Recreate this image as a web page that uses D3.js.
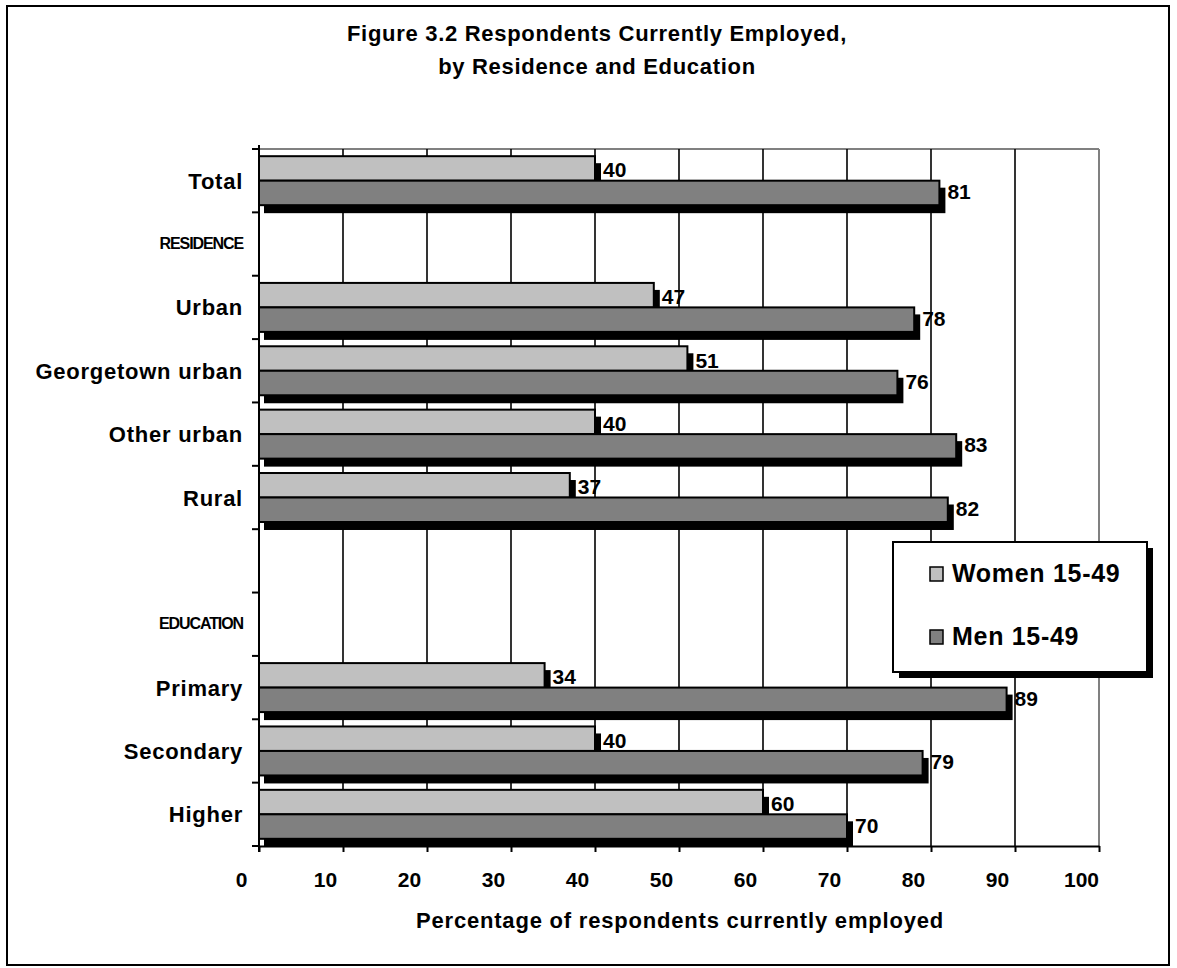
<!DOCTYPE html>
<html><head><meta charset="utf-8">
<script src="https://cdn.jsdelivr.net/npm/d3@7"></script>
<style>body{margin:0;background:#fff}svg text{font-family:"Liberation Sans",Arial,sans-serif;font-weight:bold;fill:#000}</style>
</head><body><svg id="c" width="1177" height="968"></svg>
<script>
const categories = ["Total","RESIDENCE","Urban","Georgetown urban","Other urban","Rural","","EDUCATION","Primary","Secondary","Higher"];
const headers = ["RESIDENCE","EDUCATION"];
const women = [40,null,47,51,40,37,null,null,34,40,60];
const men = [81,null,78,76,83,82,null,null,89,79,70];
const xTicks = [0,10,20,30,40,50,60,70,80,90,100];
const seriesNames = ["Women 15-49","Men 15-49"];
const colors = ["#c0c0c0","#808080"];

const svg = d3.select("#c");
const L=259,R=1099,T=149,B=846;
const x = d3.scaleLinear().domain([0,100]).range([L,R]);
const y = d3.scaleBand().domain(categories.map((c,i)=>i)).range([T,B]).paddingInner(0.227).paddingOuter(0.1135);
const slot = (B-T)/categories.length;

// outer frame
svg.append("rect").attr("x",7).attr("y",6).attr("width",1162).attr("height",959).attr("fill","#fff").attr("stroke","#000").attr("stroke-width",2);

// title
const title = svg.append("text").attr("text-anchor","middle").style("font-size","22px").style("letter-spacing","0.7px");
title.append("tspan").attr("x",597).attr("y",41).text("Figure 3.2 Respondents Currently Employed,");
title.append("tspan").attr("x",597).attr("y",74).text("by Residence and Education");

// plot frame top/right grey
svg.append("line").attr("x1",L).attr("x2",R).attr("y1",T).attr("y2",T).attr("stroke","#808080").attr("stroke-width",2);
svg.append("line").attr("x1",R).attr("x2",R).attr("y1",T).attr("y2",B).attr("stroke","#808080").attr("stroke-width",2);
// gridlines
svg.append("g").selectAll("line").data(xTicks.filter(d=>d>0&&d<100)).join("line")
  .attr("x1",d=>x(d)).attr("x2",d=>x(d)).attr("y1",T).attr("y2",B).attr("stroke","#000").attr("stroke-width",1.6);

const bh = y.bandwidth()/2;
const dx=6, dy=8;
const rows = categories.map((c,i)=>({i,w:women[i],m:men[i]})).filter(d=>d.w!=null);
const g = svg.append("g");
rows.forEach(d=>{
  const y0 = y(d.i);
  g.append("rect").attr("x",x(0)+dx-1).attr("y",y0+dy-1).attr("width",x(d.w)-x(0)+1).attr("height",bh+1).attr("fill","#000");
  g.append("rect").attr("x",x(0)+dx-1).attr("y",y0+bh+dy-1).attr("width",x(d.m)-x(0)+1).attr("height",bh+1).attr("fill","#000");
  g.append("rect").attr("x",x(0)).attr("y",y0).attr("width",x(d.w)-x(0)).attr("height",bh).attr("fill",colors[0]).attr("stroke","#000").attr("stroke-width",2);
  g.append("rect").attr("x",x(0)).attr("y",y0+bh).attr("width",x(d.m)-x(0)).attr("height",bh).attr("fill",colors[1]).attr("stroke","#000").attr("stroke-width",2);
  g.append("text").attr("x",x(d.w)+dx+2).attr("y",y0+bh/2+9).style("font-size","21px").text(d.w);
  g.append("text").attr("x",x(d.m)+dx+2).attr("y",y0+bh*1.5+6).style("font-size","21px").text(d.m);
});

// left axis
svg.append("line").attr("x1",L).attr("x2",L).attr("y1",T-4).attr("y2",B+6).attr("stroke","#000").attr("stroke-width",2);
svg.append("g").selectAll("line").data(d3.range(categories.length+1)).join("line")
  .attr("x1",L-7).attr("x2",L).attr("y1",i=>T+i*slot).attr("y2",i=>T+i*slot).attr("stroke","#000").attr("stroke-width",2);
// bottom axis
const xa = svg.append("g").attr("transform",`translate(0,${B})`)
  .call(d3.axisBottom(x).tickValues(xTicks).tickSize(6).tickSizeOuter(0).tickPadding(20));
xa.select(".domain").attr("stroke","#000").attr("stroke-width",2);
xa.selectAll(".tick line").attr("stroke","#000").attr("stroke-width",2);
xa.selectAll(".tick text").attr("x",-18).style("font-size","21px").style("font-family","'Liberation Sans',Arial,sans-serif").style("font-weight","bold").attr("fill","#000");

// category labels
svg.append("g").selectAll("text").data(categories.map((c,i)=>({c,i})).filter(d=>d.c)).join("text")
  .attr("x",243).attr("y",d=>T+(d.i+0.5)*slot+(headers.includes(d.c)?5:8))
  .attr("text-anchor","end")
  .style("font-size",d=>headers.includes(d.c)?"16px":"22px")
  .style("letter-spacing",d=>headers.includes(d.c)?"-1.1px":"0.75px")
  .text(d=>d.c);

// axis title
svg.append("text").attr("x",680).attr("y",928).attr("text-anchor","middle").style("font-size","22px").style("letter-spacing","0.8px").text("Percentage of respondents currently employed");

// legend
const lg = svg.append("g");
lg.append("rect").attr("x",899).attr("y",548).attr("width",254).attr("height",130).attr("fill","#000");
lg.append("rect").attr("x",893).attr("y",542).attr("width",254).attr("height",130).attr("fill","#fff").attr("stroke","#000").attr("stroke-width",2);
seriesNames.forEach((s,i)=>{
  const base = 582 + i*63;
  lg.append("rect").attr("x",930).attr("y",base-15).attr("width",13).attr("height",14).attr("fill",colors[i]).attr("stroke","#000").attr("stroke-width",1.5);
  lg.append("text").attr("x",952).attr("y",base).style("font-size","25px").style("letter-spacing","0.7px").text(s);
});
</script></body></html>
